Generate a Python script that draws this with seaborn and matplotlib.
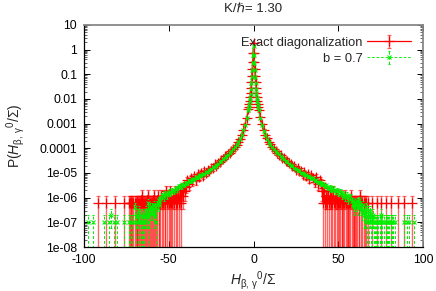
import numpy as np
import matplotlib
matplotlib.use("Agg")
import matplotlib.pyplot as plt
import seaborn as sns

# ---------------- text ----------------
title_text = "K/\u210f= 1.30"
series_labels = ["Exact diagonalization", "b = 0.7"]
x_label = r"$\mathit{H}_{\beta,\,\gamma}{}^{0}/\Sigma$"
y_label = r"P($\mathit{H}_{\beta,\,\gamma}{}^{0}/\Sigma$)"
x_ticks = [-100, -50, 0, 50, 100]
y_ticks = [1e-8, 1e-7, 1e-6, 1e-5, 1e-4, 1e-3, 1e-2, 1e-1, 1, 10]
y_tick_labels = ["1e-08", "1e-07", "1e-06", "1e-05", "0.0001", "0.001",
                 "0.01", "0.1", "1", "10"]

# ---------------- data: Exact diagonalization (red) ----------------
red_unit = 6e-7                      # probability of a single count
# counts, x = -100 ... -40.5 (step 0.5)
red_tail_left_counts = ("0000000000000000" "1" "000000000" "1" "000000000" "1"
                        "0000000000" "1" "000001"
                        "1111101111" "1111211111" "1211111121" "1112111211"
                        "2113121131" "1213121312" "413253")
# log10 P, x = -40 ... -4 (step 1)
red_core_left_log = [-5.55, -5.27, -5.46, -5.22, -5.33, -5.14, -5.30, -5.04, -5.18,
                     -4.99, -5.12, -4.90, -5.01, -4.86, -4.90, -4.78, -4.81, -4.65,
                     -4.71, -4.58, -4.55, -4.47, -4.44, -4.33, -4.32, -4.23, -4.19,
                     -4.10, -4.04, -3.94, -3.86, -3.73, -3.61, -3.44, -3.26, -3.01,
                     -2.76]
# log10 P, x = -3 ... 3 (step 0.25)
red_center_log = [-2.42, -2.33, -2.20, -2.08, -1.92, -1.76, -1.56, -1.31, -1.06,
                  -0.80, -0.50, -0.15, 0.28, -0.14, -0.49, -0.79, -1.05, -1.30,
                  -1.55, -1.75, -1.93, -2.07, -2.21, -2.32, -2.43]
# log10 P, x = 4 ... 40 (step 1)
red_core_right_log = [-2.74, -3.03, -3.24, -3.46, -3.59, -3.75, -3.84, -3.96, -4.02,
                      -4.12, -4.17, -4.27, -4.29, -4.40, -4.39, -4.50, -4.53, -4.61,
                      -4.64, -4.73, -4.70, -4.86, -4.79, -4.93, -4.90, -5.08, -4.96,
                      -5.14, -5.06, -5.25, -5.10, -5.21, -5.38, -5.17, -5.45, -5.29,
                      -5.40]
# counts, x = 40.5 ... 100 (step 0.5)
red_tail_right_counts = ("3141221312" "1213112121" "1121111211" "1111211111"
                         "1101121101" "1010100001" "0000010001" "0000010000"
                         "0100000001" "0000000100" "0000001000" "0000000000")

# ---------------- data: b = 0.7 (green) ----------------
green_unit = 1e-7
# counts, x = -100 ... -55.5 (step 0.5)
green_tail_left_counts = ("0000010000" "0100000000" "0000100001" "0020010001"
                          "0000000100" "0001001010" "4120131021" "1123216243"
                          "4352415685")
# log10 P, x = -55 ... -4 (step 1)
green_core_left_log = [-6.05, -5.90, -5.96, -5.82, -5.90, -5.76, -5.81, -5.69, -5.72,
                       -5.60, -5.66, -5.52, -5.57, -5.46, -5.50, -5.40, -5.41, -5.32,
                       -5.34, -5.25, -5.26, -5.17, -5.18, -5.10, -5.10, -5.03, -5.03,
                       -4.95, -4.94, -4.87, -4.84, -4.77, -4.74, -4.67, -4.63, -4.55,
                       -4.51, -4.43, -4.39, -4.30, -4.26, -4.17, -4.12, -4.03, -3.95,
                       -3.86, -3.75, -3.61, -3.46, -3.27, -3.04, -2.77]
# log10 P, x = -3 ... 3 (step 0.25)
green_center_log = [-2.45, -2.35, -2.23, -2.10, -1.95, -1.79, -1.60, -1.36, -1.10,
                    -0.84, -0.55, -0.22, 0.15, -0.21, -0.54, -0.83, -1.09, -1.35,
                    -1.59, -1.78, -1.95, -2.10, -2.22, -2.34, -2.45]
# log10 P, x = 4 ... 58 (step 1)
green_core_right_log = [-2.77, -3.04, -3.28, -3.46, -3.62, -3.75, -3.87, -3.96, -4.04,
                        -4.12, -4.19, -4.25, -4.32, -4.38, -4.45, -4.50, -4.57, -4.62,
                        -4.69, -4.73, -4.79, -4.83, -4.89, -4.92, -4.98, -5.01, -5.06,
                        -5.08, -5.13, -5.15, -5.21, -5.22, -5.29, -5.30, -5.37, -5.37,
                        -5.45, -5.44, -5.52, -5.50, -5.60, -5.56, -5.67, -5.62, -5.74,
                        -5.68, -5.82, -5.75, -5.90, -5.83, -5.98, -5.88, -6.08, -5.95,
                        -6.15]
# counts, x = 58.5 ... 100 (step 0.5)
green_tail_right_counts = ("7546574865" "4352324131" "2311211011" "1012110101"
                           "1011010110" "1000000000" "0100100100" "00100000000000")


def assemble(tail_l, x_tail_l, core_l, x_core_l, center, core_r, x_core_r,
             tail_r, x_tail_r, unit):
    xs, ps = [], []
    cl = np.array([int(c) for c in tail_l], float)
    xs.append(x_tail_l + 0.5 * np.arange(len(cl)))
    ps.append(np.where(cl > 0, cl * unit, np.nan))
    xs.append(x_core_l + np.arange(len(core_l)))
    ps.append(10.0 ** np.array(core_l))
    xs.append(-3 + 0.25 * np.arange(len(center)))
    ps.append(10.0 ** np.array(center))
    xs.append(x_core_r + np.arange(len(core_r)))
    ps.append(10.0 ** np.array(core_r))
    cr = np.array([int(c) for c in tail_r], float)
    xs.append(x_tail_r + 0.5 * np.arange(len(cr)))
    ps.append(np.where(cr > 0, cr * unit, np.nan))
    x = np.concatenate(xs)
    p = np.concatenate(ps)
    err = np.sqrt(p * unit) * 1.0000001   # Poisson error of the histogram
    return x, p, err


red_x, red_p, red_err = assemble(red_tail_left_counts, -100, red_core_left_log, -40,
                                 red_center_log, red_core_right_log, 4,
                                 red_tail_right_counts, 40.5, red_unit)
green_x, green_p, green_err = assemble(green_tail_left_counts, -100, green_core_left_log,
                                       -55, green_center_log, green_core_right_log, 4,
                                       green_tail_right_counts, 58.5, green_unit)

# ---------------- style ----------------
sns.set_theme(style="ticks")
plt.rcParams["font.family"] = ["Liberation Sans", "DejaVu Sans"]
plt.rcParams["mathtext.fontset"] = "custom"
plt.rcParams["mathtext.rm"] = "Liberation Sans"
plt.rcParams["mathtext.it"] = "Liberation Sans:italic"
plt.rcParams["mathtext.default"] = "regular"

fig = plt.figure(figsize=(4.36, 2.91), dpi=100)
ax = fig.add_axes([0.1927, 0.1512, 0.7775, 0.7629])
ax.set_yscale("log")

red_col = "#ff0000"
green_col = "#00ee00"

eb_r = ax.errorbar(red_x, red_p, yerr=red_err, color=red_col, ecolor=red_col,
                   mec=red_col, mfc=red_col, lw=0.9, elinewidth=1.0,
                   capsize=1.4, capthick=0.8, marker="+", ms=6.5, mew=0.9,
                   label=series_labels[0], zorder=2)
eb_r[2][0].set_alpha(0.6)
for c in eb_r[1]:
    c.set_alpha(0.6)

eb_g = ax.errorbar(green_x, green_p, yerr=green_err, color=green_col, ecolor=green_col,
                   mec=green_col, lw=0.65, ls=(0, (3, 2)), elinewidth=0.7, capsize=0.8,
                   capthick=0.5, marker="x", ms=3.4, mew=0.75,
                   label=series_labels[1], zorder=3)
eb_g[2][0].set_linestyle((0, (3, 2)))

ax.set_xlim(-100, 100)
ax.set_ylim(1e-8, 10)
ax.set_xticks(x_ticks)
ax.set_xticklabels([str(t) for t in x_ticks])
ax.set_yticks(y_ticks)
ax.set_yticklabels(y_tick_labels)
ax.yaxis.set_minor_locator(matplotlib.ticker.LogLocator(base=10, subs=np.arange(2, 10),
                                                        numticks=20))
ax.yaxis.set_minor_formatter(matplotlib.ticker.NullFormatter())
ax.tick_params(which="major", direction="in", length=4, width=0.7, top=True, right=True,
               labelsize=8.8, pad=5, colors="black")
ax.tick_params(which="minor", direction="in", length=2, width=0.5, top=False, right=True)

for s in ["left", "bottom"]:
    ax.spines[s].set_color("black")
    ax.spines[s].set_linewidth(0.9)
for s in ["top", "right"]:
    ax.spines[s].set_color("#888888")
    ax.spines[s].set_linewidth(1.3)

ax.set_title(title_text, fontsize=9.5, pad=9.5)
ax.set_xlabel(x_label, fontsize=10, labelpad=2.5)
ax.set_ylabel(y_label, fontsize=10)
ax.yaxis.set_label_coords(-0.168, 0.5)

leg = ax.legend(loc="upper right", frameon=False, markerfirst=False, fontsize=9.3,
                handlelength=3.4, handletextpad=0.4, labelspacing=0.3,
                borderaxespad=0.4, borderpad=0.5)

fig.savefig("out.png", dpi=100)
